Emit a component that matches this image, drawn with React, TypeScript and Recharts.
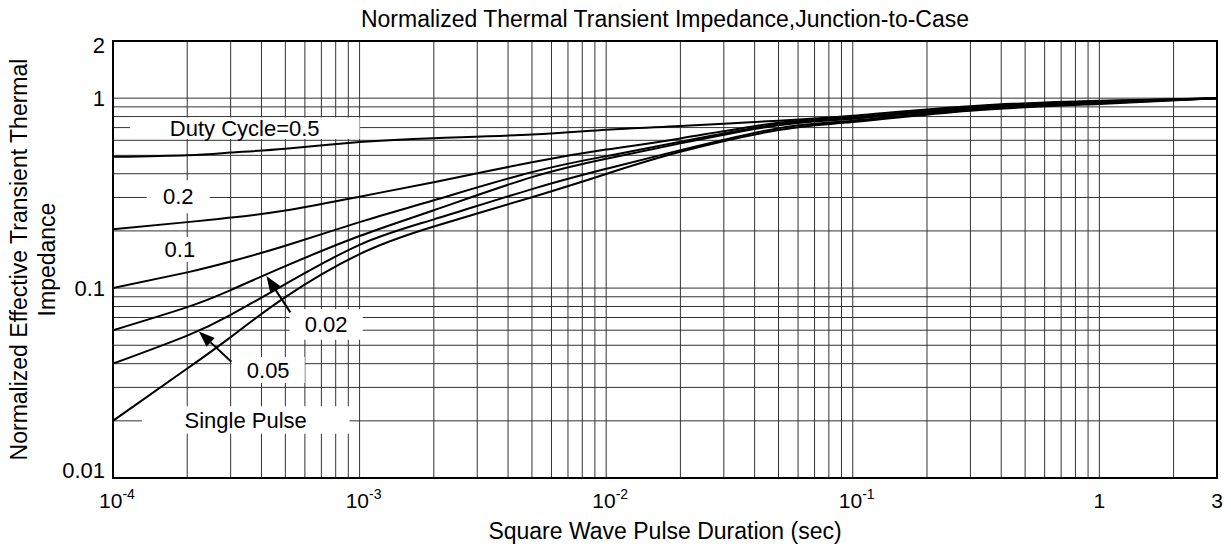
import React from 'react';
import { LineChart, Line, XAxis, YAxis, ReferenceArea, ReferenceLine } from 'recharts';

// pulse duration (sec) sampled along the curves
const durations = [1e-4, 2e-4, 3e-4, 5e-4, 1e-3, 2e-3, 5e-3, 1e-2, 2e-2, 5e-2, 1e-1, 3e-1, 1, 3];

// normalized Zth
const duty05 = [0.491, 0.501, 0.517, 0.542, 0.587, 0.616, 0.643, 0.682, 0.714, 0.761, 0.809, 0.908, 0.97, 1.0];
const duty02 = [0.204, 0.2225, 0.235, 0.256, 0.303, 0.361, 0.46, 0.536, 0.614, 0.743, 0.794, 0.897, 0.962, 1.0];
const duty01 = [0.1, 0.121, 0.138, 0.167, 0.2225, 0.29, 0.408, 0.495, 0.589, 0.73, 0.785, 0.888, 0.955, 1.0];
const duty002 = [0.06, 0.0794, 0.0976, 0.1305, 0.188, 0.257, 0.384, 0.48, 0.578, 0.721, 0.78, 0.883, 0.95, 1.0];
const duty005 = [0.04, 0.0562, 0.0723, 0.105, 0.169, 0.23, 0.332, 0.4245, 0.5325, 0.695, 0.761, 0.87, 0.941, 1.0];
const singlePulse = [0.02, 0.0377, 0.0552, 0.0897, 0.151, 0.211, 0.301, 0.399, 0.522, 0.679, 0.748, 0.859, 0.932, 1.0];

const xTicks = [1e-4, 1e-3, 1e-2, 1e-1, 1, 3];
const xTickLabels: [string, string][] = [['10', '-4'], ['10', '-3'], ['10', '-2'], ['10', '-1'], ['1', ''], ['3', '']];
const yTicks = [0.01, 0.1, 1, 2];
const yTickLabels = ['0.01', '0.1', '1', '2'];

const decades = [1e-4, 1e-3, 1e-2, 1e-1, 1];
const xGrid = decades.flatMap((d) => [1, 2, 3, 4, 5, 6, 7, 8, 9].map((m) => m * d)).filter((v) => v > 1e-4 && v < 3);
const yGrid = [0.01, 0.1].flatMap((d) => [1, 2, 3, 4, 5, 6, 7, 8, 9].map((m) => m * d)).concat([1]).filter((v) => v > 0.01);

// curve labels sitting on white boxes
const curveLabels = [
  { text: 'Duty Cycle=0.5', x1: 1.17e-4, x2: 1.0e-3, y1: 0.61, y2: 0.79 },
  { text: '0.2', x1: 1.37e-4, x2: 2.47e-4, y1: 0.248, y2: 0.37 },
  { text: '0.1', x1: 1.55e-4, x2: 2.25e-4, y1: 0.137, y2: 0.186 },
  { text: '0.02', x1: 5.2e-4, x2: 1.03e-3, y1: 0.0534, y2: 0.0775 },
  { text: '0.05', x1: 3.03e-4, x2: 5.99e-4, y1: 0.0316, y2: 0.0434 },
  { text: 'Single Pulse', x1: 1.31e-4, x2: 9.1e-4, y1: 0.0171, y2: 0.0239 },
];

const arrows = [
  { from: { x: 5.24e-4, y: 0.0745 }, to: { x: 4.19e-4, y: 0.1158 } },
  { from: { x: 3.02e-4, y: 0.0409 }, to: { x: 2.23e-4, y: 0.0591 } },
];

const data = durations.map((t, i) => ({
  t,
  duty05: duty05[i],
  duty02: duty02[i],
  duty01: duty01[i],
  duty002: duty002[i],
  duty005: duty005[i],
  single: singlePulse[i],
}));

const series = ['duty05', 'duty02', 'duty01', 'duty002', 'duty005', 'single'];

const FONT = '"Liberation Sans", Arial, Helvetica, sans-serif';
const GRID = '#333';

function XTick(props: any) {
  const { x, y, payload } = props;
  const i = xTicks.indexOf(payload.value);
  const [base, exp] = i >= 0 ? xTickLabels[i] : [String(payload.value), ''];
  return (
    <text x={x + (exp ? 4 : 0)} y={y + 28} textAnchor="middle" fontSize={21} fill="#000" fontFamily={FONT}>
      {base}
      {exp && (
        <tspan dy={-9} fontSize={14}>
          {exp}
        </tspan>
      )}
    </text>
  );
}

function YTick(props: any) {
  const { x, y, payload } = props;
  const i = yTicks.indexOf(payload.value);
  // keep the end labels inside the frame like the original
  const cy = Math.min(Math.max(y, 45), 470);
  return (
    <text x={x - 6} y={cy} dy="0.36em" textAnchor="end" fontSize={22} fill="#000" fontFamily={FONT}>
      {i >= 0 ? yTickLabels[i] : String(payload.value)}
    </text>
  );
}

function Arrow(props: any) {
  const { x1, y1, x2, y2 } = props;
  const dx = x2 - x1;
  const dy = y2 - y1;
  const len = Math.sqrt(dx * dx + dy * dy) || 1;
  const ux = dx / len;
  const uy = dy / len;
  const head = 16;
  const half = 6;
  const bx = x2 - ux * head;
  const by = y2 - uy * head;
  const pts = `${x2},${y2} ${bx - uy * half},${by + ux * half} ${bx + uy * half},${by - ux * half}`;
  return (
    <g>
      <line x1={x1} y1={y1} x2={bx} y2={by} stroke="#000" strokeWidth={2} />
      <polygon points={pts} fill="#000" />
    </g>
  );
}

export default function App() {
  return (
    <div style={{ position: 'absolute', left: 0, top: 0, width: 1231, height: 548, background: '#fff', fontFamily: FONT }}>
      <div
        style={{
          position: 'absolute',
          left: 113,
          width: 1104,
          top: 9,
          lineHeight: '21px',
          fontSize: 23,
          textAlign: 'center',
          color: '#000',
        }}
      >
        Normalized Thermal Transient Impedance,Junction-to-Case
      </div>
      <LineChart width={1231} height={548} data={data} margin={{ top: 41, right: 14, bottom: 0, left: 0 }} style={{ fontFamily: FONT }}>
        <XAxis
          dataKey="t"
          type="number"
          scale="log"
          domain={[1e-4, 3]}
          allowDataOverflow
          ticks={xTicks}
          interval={0}
          axisLine={false}
          tickLine={false}
          tickSize={0}
          height={70}
          tick={<XTick />}
          label={(p: any) => {
            const vb = p.viewBox || { x: 113, y: 478, width: 1104 };
            return (
              <text x={vb.x + vb.width / 2} y={vb.y + 61} textAnchor="middle" fontSize={23} fill="#000" fontFamily={FONT}>
                Square Wave Pulse Duration (sec)
              </text>
            );
          }}
        />
        <YAxis
          type="number"
          scale="log"
          domain={[0.01, 2]}
          allowDataOverflow
          ticks={yTicks}
          interval={0}
          axisLine={false}
          tickLine={false}
          tickSize={0}
          width={113}
          tick={<YTick />}
          label={(p: any) => {
            const vb = p.viewBox || { x: 0, y: 41, height: 437 };
            const cy = vb.y + vb.height / 2;
            return (
              <g>
                <text x={19} y={cy} transform={`rotate(-90, 19, ${cy})`} dy="0.36em" textAnchor="middle" fontSize={23} fill="#000" fontFamily={FONT}>
                  Normalized Effective Transient Thermal
                </text>
                <text x={47} y={cy} transform={`rotate(-90, 47, ${cy})`} dy="0.36em" textAnchor="middle" fontSize={23} fill="#000" fontFamily={FONT}>
                  Impedance
                </text>
              </g>
            );
          }}
        />
        {xGrid.map((v) => (
          <ReferenceLine key={`gx-${v}`} x={v} stroke={GRID} strokeWidth={1} zIndex={-100} />
        ))}
        {yGrid.map((v) => (
          <ReferenceLine key={`gy-${v}`} y={v} stroke={GRID} strokeWidth={1} zIndex={-100} />
        ))}
        {curveLabels.map((b) => (
          <ReferenceArea
            key={b.text}
            x1={b.x1}
            x2={b.x2}
            y1={b.y1}
            y2={b.y2}
            fill="#fff"
            fillOpacity={1}
            stroke="none"
            zIndex={50}
            label={{ value: b.text, position: 'center', fill: '#000', fontSize: 22, fontFamily: FONT }}
          />
        ))}
        {arrows.map((a, i) => (
          <ReferenceLine key={`arrow-${i}`} segment={[a.from, a.to]} shape={<Arrow />} zIndex={500} />
        ))}
        {series.map((key) => (
          <Line
            key={key}
            dataKey={key}
            type="natural"
            stroke="#000"
            strokeWidth={2}
            dot={false}
            activeDot={false}
            isAnimationActive={false}
          />
        ))}
        <ReferenceArea x1={1e-4} x2={3} y1={0.01} y2={2} fill="none" stroke="#000" strokeWidth={2} zIndex={600} />
      </LineChart>
    </div>
  );
}
